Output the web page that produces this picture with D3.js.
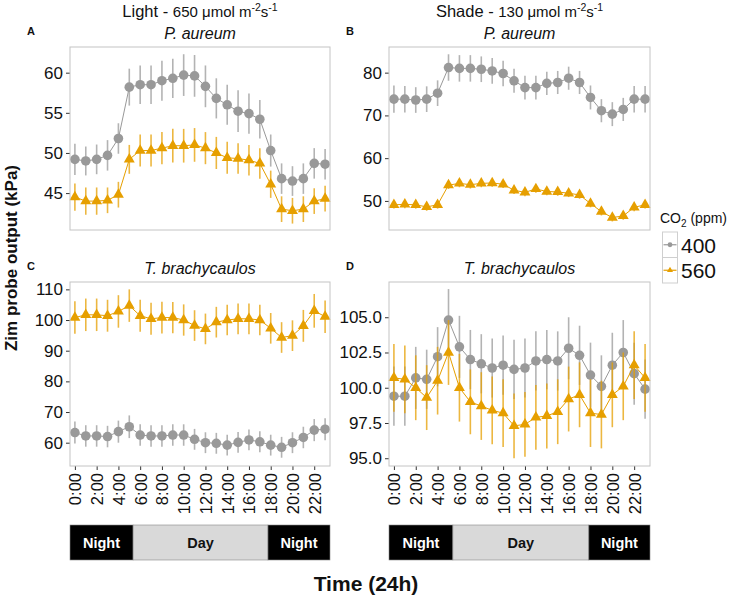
<!DOCTYPE html>
<html><head><meta charset="utf-8">
<script src="https://cdn.jsdelivr.net/npm/d3@7"></script>
<style>body{margin:0;background:#fff}svg{display:block;font-family:"Liberation Sans",Arial,Helvetica,sans-serif}</style>
</head><body><svg id="c" width="733" height="599"></svg>
<script>
// ---- data ----
const hourLabels = ["0:00","1:00","2:00","3:00","4:00","5:00","6:00","7:00","8:00","9:00","10:00","11:00",
  "12:00","13:00","14:00","15:00","16:00","17:00","18:00","19:00","20:00","21:00","22:00","23:00"];
const tickLabels = ["0:00","2:00","4:00","6:00","8:00","10:00","12:00","14:00","16:00","18:00","20:00","22:00"];
const co2Levels = ["400","560"];

const lightAureum400 = [49.2,49.0,49.2,49.7,51.8,58.2,58.5,58.5,59.0,59.3,59.7,59.6,58.3,56.8,56.0,55.2,54.9,54.2,50.3,46.8,46.5,46.8,48.7,48.6];
const lightAureum400se = [1.95,1.8,1.85,1.9,1.9,2.3,2.4,2.4,2.5,2.45,2.6,2.6,2.6,2.5,2.5,2.6,2.5,2.4,2.0,1.9,1.85,1.9,1.9,1.9];
const lightAureum560 = [44.5,44.0,44.0,44.1,44.8,49.2,50.3,50.3,50.6,50.9,50.9,51.0,50.6,50.0,49.4,49.3,49.1,48.7,46.1,43.0,42.8,43.0,44.0,44.3];
const lightAureum560se = [1.7,1.7,1.7,1.6,1.6,1.8,2.0,2.0,2.0,2.1,2.1,2.1,2.0,2.0,2.0,1.9,1.9,1.9,1.7,1.6,1.6,1.6,1.6,1.6];

const shadeAureum400 = [73.8,73.8,73.6,73.8,75.2,81.2,81.0,81.0,80.8,80.4,79.8,78.1,76.5,76.5,77.5,77.7,78.7,77.7,74.2,71.1,70.3,71.4,73.8,73.8];
const shadeAureum400se = [3.2,3.1,3.0,3.0,3.0,3.1,3.1,3.1,3.0,3.0,3.0,2.8,2.8,2.8,2.7,2.7,2.7,2.7,2.8,2.7,2.8,2.7,3.1,3.1];
const shadeAureum560 = [49.1,49.2,49.1,48.6,49.1,53.7,54.1,53.8,54.1,54.2,53.9,52.5,52.0,52.8,52.2,52.1,51.8,51.4,49.4,47.5,46.1,46.5,48.5,49.1];
const shadeAureum560se = [0.9,0.9,0.9,0.9,0.9,0.9,0.9,0.9,0.9,0.9,0.9,0.9,0.9,0.9,0.9,0.9,0.9,0.9,0.9,0.9,0.9,0.9,0.9,0.9];

const lightBrachy400 = [63.3,62.2,62.2,62.0,63.6,65.2,62.5,62.2,62.2,62.5,62.5,61.1,60.0,59.8,59.2,60.1,60.9,60.3,59.2,58.5,60.0,61.7,64.1,64.4];
const lightBrachy400se = [3.6,3.5,3.5,3.5,3.6,3.7,3.5,3.5,3.5,3.5,3.5,3.4,3.4,3.4,3.4,3.4,3.4,3.4,3.4,3.4,3.4,3.5,3.6,3.6];
const lightBrachy560 = [100.8,101.7,101.7,101.4,102.8,104.7,101.4,100.4,100.8,100.8,100.0,98.2,97.1,99.3,100.0,100.4,100.4,100.0,97.3,94.3,94.9,98.1,103.0,101.1];
const lightBrachy560se = [5.3,5.3,5.3,5.2,5.3,5.3,5.2,5.2,5.2,5.1,5.1,5.0,5.0,5.0,5.0,5.0,5.0,5.0,5.0,5.0,5.0,5.2,5.5,5.3];

const shadeBrachy400 = [99.4,99.4,100.7,100.6,102.2,104.8,102.9,102.0,101.7,101.4,101.6,101.3,101.4,101.9,102.0,101.9,102.8,102.3,100.9,100.1,101.6,102.5,101.0,99.9];
const shadeBrachy400se = [2.1,2.1,2.2,2.1,2.1,2.2,2.2,2.1,2.1,2.1,2.1,2.1,2.1,2.1,2.1,2.1,2.2,2.1,2.3,2.2,2.3,2.3,2.2,2.1];
const shadeBrachy560 = [100.7,100.6,100.0,99.3,100.5,102.5,100.0,99.0,98.7,98.4,98.2,97.3,97.4,97.9,98.0,98.3,99.2,99.5,98.2,98.1,99.5,100.1,101.6,100.7];
const shadeBrachy560se = [2.4,2.4,2.3,2.3,2.4,2.3,2.4,2.3,2.4,2.4,2.4,2.3,2.3,2.3,2.3,2.3,2.3,2.3,2.4,2.4,2.3,2.4,2.4,2.4];

const ticksA = [45,50,55,60];
const ticksB = [50,60,70,80];
const ticksC = [60,70,80,90,100,110];
const ticksD = [95,97.5,100,102.5,105];

const periodNames = ["Night","Day","Night"];

// ---- layout / style ----
const colors = {"400":"#999999","560":"#E69F00"};
const svg = d3.select("#c");
svg.append("rect").attr("width",733).attr("height",599).attr("fill","#fff");

const panels = [
  {id:"A", x0:70, x1:330, y0:47, y1:230, dom:[40.4,63.2], ticks:ticksA, fmt:d3.format("d"),
   s400:lightAureum400, e400:lightAureum400se, s560:lightAureum560, e560:lightAureum560se, xaxis:false,
   title:["Light - ","650 μmol m","-2","s","-1"], sp:"P. aureum"},
  {id:"B", x0:389, x1:650, y0:47, y1:230, dom:[43.2,86.0], ticks:ticksB, fmt:d3.format("d"),
   s400:shadeAureum400, e400:shadeAureum400se, s560:shadeAureum560, e560:shadeAureum560se, xaxis:false,
   title:["Shade - ","130 μmol m","-2","s","-1"], sp:"P. aureum"},
  {id:"C", x0:70, x1:330, y0:282, y1:466, dom:[52.4,112.4], ticks:ticksC, fmt:d3.format("d"),
   s400:lightBrachy400, e400:lightBrachy400se, s560:lightBrachy560, e560:lightBrachy560se, xaxis:true,
   sp:"T. brachycaulos", bounds:[5.35,17.75]},
  {id:"D", x0:389, x1:650, y0:282, y1:466, dom:[94.45,107.5], ticks:ticksD, fmt:d3.format(".1f"),
   s400:shadeBrachy400, e400:shadeBrachy400se, s560:shadeBrachy560, e560:shadeBrachy560se, xaxis:true,
   sp:"T. brachycaulos", bounds:[5.4,17.85]}
];

const tri = d3.symbol().type(d3.symbolTriangle).size(52);

panels.forEach(p => {
  const x = d3.scalePoint().domain(hourLabels).range([p.x0,p.x1]).padding(0.45);
  const y = d3.scaleLinear().domain(p.dom).range([p.y1,p.y0]);
  const g = svg.append("g");

  // y axis
  const ya = g.append("g").attr("transform",`translate(${p.x0},0)`)
    .call(d3.axisLeft(y).tickValues(p.ticks).tickFormat(p.fmt).tickSize(4).tickPadding(3));
  ya.select(".domain").remove();
  ya.selectAll("line").attr("stroke","#333");
  ya.selectAll("text").attr("font-size",17).attr("fill","#111").attr("font-family","Liberation Sans, Arial, sans-serif");

  // x axis for bottom panels
  if (p.xaxis) {
    const xa = g.append("g").attr("transform",`translate(0,${p.y1})`)
      .call(d3.axisBottom(x).tickValues(tickLabels).tickSize(4));
    xa.select(".domain").remove();
    xa.selectAll("line").attr("stroke","#333");
    xa.selectAll("text").attr("font-size",16.5).attr("fill","#111")
      .attr("font-family","Liberation Sans, Arial, sans-serif")
      .attr("text-anchor","end").attr("transform","rotate(-90)")
      .attr("x",-7).attr("y",0).attr("dy","0.36em");

    // day/night band
    const xl = d3.scaleLinear().domain([-0.45,23.45]).range([p.x0,p.x1]);
    const edges = [-0.45, p.bounds[0], p.bounds[1], 23.45];
    const by0 = 525, bh = 35;
    periodNames.forEach((nm,i) => {
      const isNight = nm === "Night";
      g.append("rect").attr("x",xl(edges[i])).attr("y",by0)
        .attr("width",xl(edges[i+1])-xl(edges[i])).attr("height",bh)
        .attr("fill",isNight?"#000":"#d9d9d9").attr("stroke","#888").attr("stroke-width",0.6);
      g.append("text").attr("x",(xl(edges[i])+xl(edges[i+1]))/2).attr("y",by0+bh/2+5)
        .attr("text-anchor","middle").attr("font-size",14.5).attr("font-weight","bold")
        .attr("fill",isNight?"#fff":"#111").text(nm);
    });
  }

  // series
  [["400",p.s400,p.e400],["560",p.s560,p.e560]].forEach(([lvl,vals,errs]) => {
    const c = colors[lvl];
    const pts = hourLabels.map((h,i)=>({h, v:vals[i], e:errs[i]}));
    g.append("path").datum(pts)
      .attr("d", d3.line().x(d=>x(d.h)).y(d=>y(d.v)))
      .attr("fill","none").attr("stroke",c).attr("stroke-width",1);
    g.selectAll(null).data(pts).join("line")
      .attr("x1",d=>x(d.h)).attr("x2",d=>x(d.h))
      .attr("y1",d=>y(d.v-d.e)).attr("y2",d=>y(d.v+d.e))
      .attr("stroke",c).attr("stroke-opacity",0.75).attr("stroke-width",1.6);
    if (lvl==="400") {
      g.selectAll(null).data(pts).join("circle")
        .attr("cx",d=>x(d.h)).attr("cy",d=>y(d.v)).attr("r",4.8).attr("fill",c);
    } else {
      g.selectAll(null).data(pts).join("path")
        .attr("d",tri).attr("transform",d=>`translate(${x(d.h)},${y(d.v)})`).attr("fill",c);
    }
  });

  // panel border
  g.append("rect").attr("x",p.x0).attr("y",p.y0).attr("width",p.x1-p.x0).attr("height",p.y1-p.y0)
    .attr("fill","none").attr("stroke","#c4c4c4").attr("stroke-width",1);

  const cx = (p.x0+p.x1)/2;
  // species title
  g.append("text").attr("x",cx).attr("y",p.y0-8).attr("text-anchor","middle")
    .attr("font-size",16).attr("font-style","italic").attr("fill","#111").text(p.sp);
  // panel letter
  g.append("text").attr("x",p.x0-39).attr("y",p.y0-12).attr("text-anchor","middle")
    .attr("font-size",11).attr("font-weight","bold").attr("fill","#111").text(p.id);
  // condition title
  if (p.title) {
    const t = g.append("text").attr("x",cx).attr("y",17).attr("text-anchor","middle").attr("fill","#111");
    t.append("tspan").attr("font-size",16.5).text(p.title[0]);
    t.append("tspan").attr("font-size",15).text(p.title[1]);
    t.append("tspan").attr("font-size",10.5).attr("dy",-6).text(p.title[2]);
    t.append("tspan").attr("font-size",15).attr("dy",6).text(p.title[3]);
    t.append("tspan").attr("font-size",10.5).attr("dy",-6).text(p.title[4]);
  }
});

// axis titles
svg.append("text").attr("transform","translate(17,258) rotate(-90)").attr("text-anchor","middle")
  .attr("font-size",17).attr("font-weight","bold").attr("fill","#111").text("Zim probe output (kPa)");
svg.append("text").attr("x",366).attr("y",591).attr("text-anchor","middle")
  .attr("font-size",21).attr("font-weight","bold").attr("fill","#111").text("Time (24h)");

// legend
const lg = svg.append("g");
const lt = lg.append("text").attr("x",660).attr("y",223).attr("font-size",14).attr("fill","#111");
lt.append("tspan").text("CO");
lt.append("tspan").attr("font-size",10).attr("dy",4).text("2");
lt.append("tspan").attr("dy",-4).text(" (ppm)");
co2Levels.forEach((lvl,i) => {
  const ky = 232 + i*25.5;
  lg.append("rect").attr("x",662.5).attr("y",ky).attr("width",15).attr("height",25.5)
    .attr("fill","#fff").attr("stroke","#cfcfcf").attr("stroke-width",1);
  lg.append("line").attr("x1",663.5).attr("x2",676.5).attr("y1",ky+12.75).attr("y2",ky+12.75)
    .attr("stroke",colors[lvl]).attr("stroke-width",1.2);
  if (lvl==="400") lg.append("circle").attr("cx",670).attr("cy",ky+12.75).attr("r",2.4).attr("fill",colors[lvl]);
  else lg.append("path").attr("d",d3.symbol().type(d3.symbolTriangle).size(16)())
        .attr("transform",`translate(670,${ky+12.75})`).attr("fill",colors[lvl]);
  lg.append("text").attr("x",681).attr("y",ky+20.5).attr("font-size",21).attr("fill","#111").text(lvl);
});
</script></body></html>
